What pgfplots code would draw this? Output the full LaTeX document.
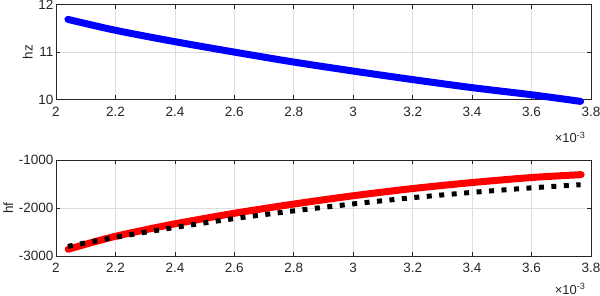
\documentclass[border=0pt]{standalone}
\usepackage{pgfplots}
\pgfplotsset{compat=1.18}
\usepackage{fontspec}
\setmainfont{Liberation Sans}
\definecolor{axgray}{rgb}{0.15,0.15,0.15}
\definecolor{gridgray}{rgb}{0.87,0.87,0.87}
\pgfplotstableread{
x y
2.04 11.69
2.2 11.46
2.4 11.22
2.6 11.00
2.8 10.79
3.0 10.60
3.2 10.42
3.4 10.25
3.6 10.10
3.765 9.96
}\hztable
\pgfplotstableread{
x y
2.041 -2860
2.12 -2720
2.2 -2590
2.3 -2455
2.4 -2330
2.6 -2110
2.8 -1918
3.0 -1745
3.2 -1595
3.4 -1470
3.6 -1365
3.767 -1305
}\hfred
\pgfplotstableread{
x y
2.04 -2800
2.2 -2610
2.4 -2405
2.6 -2220
2.8 -2060
3.0 -1915
3.2 -1785
3.4 -1675
3.6 -1580
3.765 -1515
}\hfblack
\pgfplotsset{
  myax/.style={
    scale only axis, width=535pt,
    xmin=2, xmax=3.8,
    xtick={2,2.2,2.4,2.6,2.8,3,3.2,3.4,3.6,3.8},
    xticklabels={2,2.2,2.4,2.6,2.8,3,3.2,3.4,3.6,3.8},
    tick align=inside, major tick length=4pt,
    axis line style={axgray, line width=0.6pt},
    tick style={axgray, line width=0.6pt},
    grid=major, major grid style={gridgray, line width=0.6pt},
    ticklabel style={font=\fontsize{13.5}{15}\selectfont, text=axgray},
    xticklabel style={yshift=-4pt},
    yticklabel style={xshift=1pt},
    label style={font=\fontsize{13.5}{15}\selectfont, text=axgray},
    /pgf/number format/assume math mode=true,
    /pgf/number format/set thousands separator={},
    clip=false,
  }
}
\begin{document}
\begin{tikzpicture}[x=1pt,y=1pt]
\useasboundingbox (0,0) rectangle (600,296);
\begin{axis}[myax, at={(56pt,196.5pt)}, anchor=south west, height=94.8pt,
  ymin=10, ymax=12, ytick={10,11,12}, yticklabels={10,11,12},
  ylabel={hz}, ylabel style={yshift=-1pt}]
\addplot[blue, line width=7pt, line cap=round, smooth] table {\hztable};
\node[anchor=north east, font=\fontsize{13}{15}\selectfont, text=axgray] at (rel axis cs:1,0) [xshift=-2pt, yshift=-29pt] {×10\textsuperscript{-3}};
\end{axis}
\begin{axis}[myax, at={(56pt,40pt)}, anchor=south west, height=96pt,
  ymin=-3000, ymax=-1000, ytick={-3000,-2000,-1000}, yticklabels={-3000,-2000,-1000},
  ylabel={hf}, ylabel style={yshift=-1pt}]
\addplot[red, line width=7pt, line cap=round, smooth] table {\hfred};
\addplot[black, line width=5pt, dash pattern=on 5pt off 7.5pt, smooth] table {\hfblack};
\node[anchor=north east, font=\fontsize{13}{15}\selectfont, text=axgray] at (rel axis cs:1,0) [xshift=-2pt, yshift=-24pt] {×10\textsuperscript{-3}};
\end{axis}
\end{tikzpicture}
\end{document}
